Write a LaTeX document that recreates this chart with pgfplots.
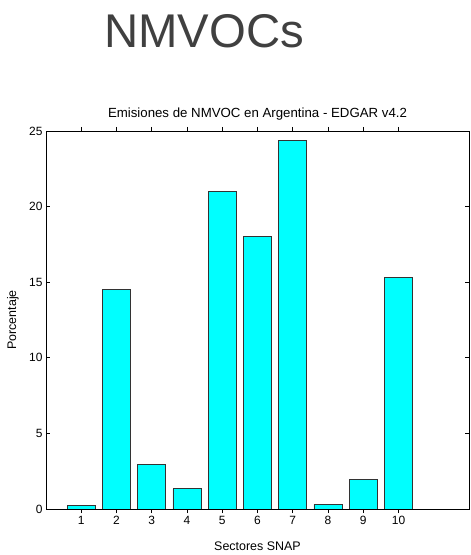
\documentclass[border=0pt]{standalone}
\usepackage{fontspec}
\setmainfont{Liberation Sans}
\usepackage{pgfplots}
\pgfplotsset{compat=1.18}
\definecolor{titlegray}{HTML}{404040}
\definecolor{barcyan}{RGB}{0,255,255}
\begin{document}
\begin{tikzpicture}
\path[use as bounding box] (0,0) rectangle (471bp,555bp);
\node[text=titlegray, font=\fontsize{47.5}{52}\selectfont, anchor=center] at (204bp,524bp) {NMVOCs};
\begin{axis}[
  scale only axis, width=423bp, height=378bp,
  at={(46bp,46bp)}, anchor=south west,
  xmin=0, xmax=12, ymin=0, ymax=25,
  xtick={1,...,10}, ytick={0,5,...,25},
  tick align=inside, major tick length=4bp,
  tick style={black, line width=0.6pt},
  axis line style={black, line width=0.6pt},
  /pgf/number format/assume math mode=true,
  tick label style={font=\fontsize{12}{14}\selectfont},
  title={Emisiones de NMVOC en Argentina - EDGAR v4.2},
  title style={font=\fontsize{13.3}{15}\selectfont, at={(axis description cs:0.5,1)}, anchor=base, yshift=8bp},
  xlabel={Sectores SNAP},
  ylabel={Porcentaje},
  label style={font=\fontsize{12.5}{14}\selectfont},
  xlabel style={at={(axis description cs:0.5,-0.098)}, anchor=center},
  ylabel style={at={(axis description cs:-0.078,0.5)}, anchor=center},
  ybar, bar width=0.8,
]
\addplot[fill=barcyan, draw=black!80, line width=0.8pt] coordinates {
 (1,0.22) (2,14.5) (3,2.95) (4,1.33) (5,21.0) (6,18.0) (7,24.4) (8,0.31) (9,1.95) (10,15.3)
};
\end{axis}
\end{tikzpicture}
\end{document}
